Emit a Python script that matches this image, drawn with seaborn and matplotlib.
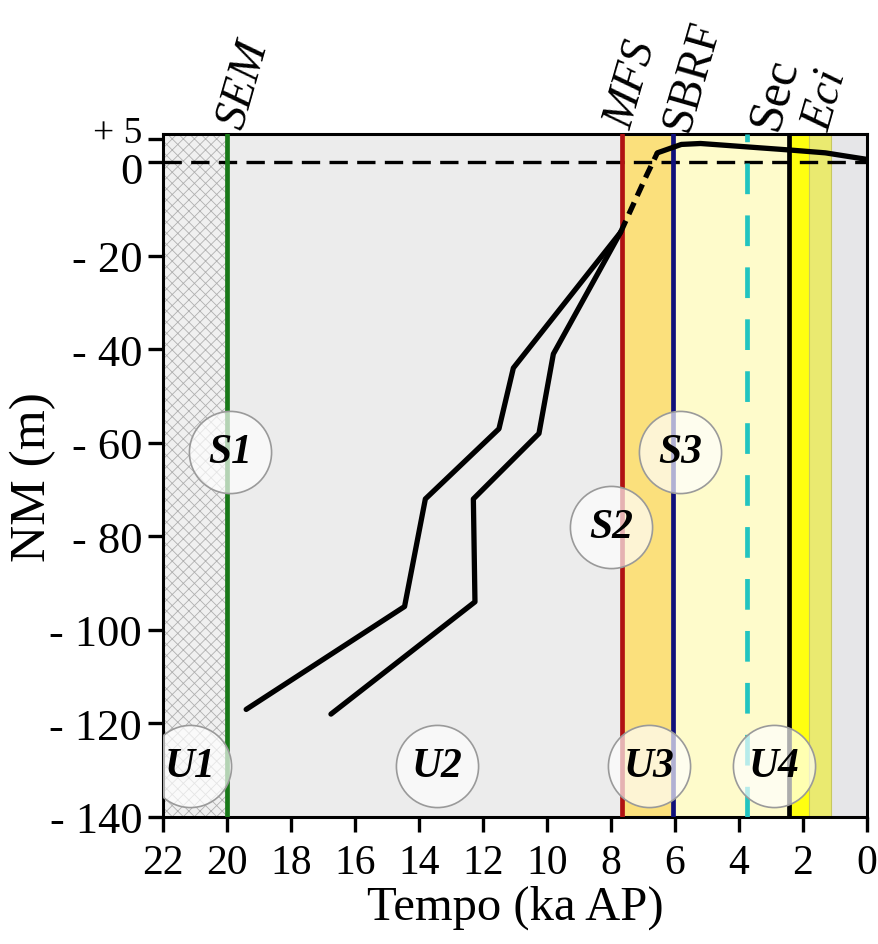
import matplotlib
matplotlib.use("Agg")
import matplotlib.pyplot as plt
import matplotlib.transforms as mtransforms
import seaborn as sns
import pandas as pd
import numpy as np

# ---------------- data ----------------
curve_a_age = [19.4, 14.45, 13.8, 11.5, 11.05, 7.7]
curve_a_nm = [-117, -95, -72, -57, -44, -15]
curve_b_age = [16.75, 12.25, 12.3, 10.25, 9.8, 7.7]
curve_b_nm = [-118, -94, -72, -58, -41, -15]
dash_age = [7.7, 6.9, 6.55]
dash_nm = [-15, -3, 2]
recent_age = [6.55, 5.8, 5.2, 3.4, 2.4, 1.3, 0.0]
recent_nm = [2, 3.8, 4.0, 3.1, 2.6, 2.0, 0.6]

band_edges = [(22, 20), (20, 7.65), (7.65, 6.05), (6.05, 2.45), (2.45, 1.8), (1.8, 1.12), (1.12, 0)]
band_colors = ["#f0f0f0", "#ececec", "#fbe07c", "#fefbcb", "#ffff10", "#eaea70", "#e6e6e8"]

surf_names = ["SEM", "MFS", "SBRF", "Sec", "Eci"]
surf_age = [20.0, 7.65, 6.05, 3.75, 2.45]
surf_colors = ["#187818", "#b01212", "#10107a", "#22c4c0", "#000000"]
surf_styles = ["-", "-", "-", (0, (6.5, 4.5)), "-"]

circle_labels = ["S1", "S2", "S3", "U1", "U2", "U3", "U4"]
circle_age = [19.9, 8.0, 5.85, 21.15, 13.45, 6.8, 2.9]
circle_nm = [-62, -78, -62, -129, -129, -129, -129]

xticks = [22, 20, 18, 16, 14, 12, 10, 8, 6, 4, 2, 0]
yticks = [5, 0, -20, -40, -60, -80, -100, -120, -140]
ytick_labels = ["+ 5", "0", "- 20", "- 40", "- 60", "- 80", "- 100", "- 120", "- 140"]

# ---------------- plot ----------------
sns.set_theme(style="ticks")
plt.rcParams["font.family"] = ["Liberation Serif", "DejaVu Serif"]
plt.rcParams["text.color"] = "black"
plt.rcParams["axes.labelcolor"] = "black"
plt.rcParams["xtick.color"] = "black"
plt.rcParams["ytick.color"] = "black"
plt.rcParams["hatch.linewidth"] = 0.6

fig = plt.figure(figsize=(8.79, 9.45), dpi=100)
ax = fig.add_axes([0.1854, 0.1344, 0.8009, 0.7226])

for i, ((x0, x1), c) in enumerate(zip(band_edges, band_colors)):
    if i == 0:
        ax.axvspan(x1, x0, facecolor=c, edgecolor="#b0b0b0", hatch="xxx", lw=0, zorder=0)
    else:
        ax.axvspan(x1, x0, facecolor=c, edgecolor="none", lw=0, zorder=0)
for xv in [1.8, 1.12]:
    ax.axvline(xv, color="#c8c860", lw=0.8, zorder=0.5)

ax.axhline(0, color="black", lw=2.4, ls=(0, (5.5, 2.8)), zorder=2)

for name, xv, c, ls in zip(surf_names, surf_age, surf_colors, surf_styles):
    ax.axvline(xv, color=c, lw=3.4, ls=ls, zorder=3)

df_a = pd.DataFrame({"age": curve_a_age, "nm": curve_a_nm})
df_b = pd.DataFrame({"age": curve_b_age, "nm": curve_b_nm})
df_d = pd.DataFrame({"age": dash_age, "nm": dash_nm})
df_r = pd.DataFrame({"age": recent_age, "nm": recent_nm})
for d in (df_a, df_b, df_r):
    sns.lineplot(data=d, x="age", y="nm", sort=False, estimator=None, color="black",
                 lw=3.8, ax=ax, zorder=4)
sns.lineplot(data=df_d, x="age", y="nm", sort=False, estimator=None, color="black",
             lw=3.8, ls=(0, (2.4, 1.4)), ax=ax, zorder=4)

ax.scatter(circle_age, circle_nm, s=3500, facecolor=(1, 1, 1, 0.68),
           edgecolor="#9a9a9a", lw=1.2, zorder=5)
for lab, xv, yv in zip(circle_labels, circle_age, circle_nm):
    ax.text(xv, yv, lab, ha="center", va="center", fontsize=30, fontweight="bold",
            fontstyle="italic", zorder=6)

# labels of the surfaces above the plot
top_styles = ["italic", "italic", "normal", "normal", "italic"]
top_x = [19.5, 7.4, 5.6, 2.85, 1.2]
top_y = [6.8, 6.8, 6.4, 6.6, 6.4]
top_size = [33, 33, 33, 36, 33]
for name, xv, yv, st, fs in zip(surf_names, top_x, top_y, top_styles, top_size):
    ax.text(xv, yv, name, rotation=74, rotation_mode="anchor",
            ha="left", va="baseline", fontsize=fs, fontstyle=st, clip_on=False)

ax.set_xlim(22, 0)
ax.set_ylim(-140, 6)
ax.set_xticks(xticks)
ax.set_xticklabels([str(t) for t in xticks])
ax.set_yticks(yticks)
ax.set_yticklabels(ytick_labels)
ax.tick_params(axis="both", length=11, width=2.4, color="black")
ax.tick_params(axis="x", pad=8, labelsize=30)
ax.tick_params(axis="y", pad=4, labelsize=32)
for sp in ax.spines.values():
    sp.set_linewidth(2.2)
    sp.set_color("black")

# nudge the +5 / 0 labels apart as in the reference
ylabs = ax.get_yticklabels()
ylabs[0].set_transform(ylabs[0].get_transform() + mtransforms.ScaledTranslation(0, 0.10, fig.dpi_scale_trans))
ylabs[1].set_transform(ylabs[1].get_transform() + mtransforms.ScaledTranslation(0, -0.05, fig.dpi_scale_trans))
ylabs[0].set_fontsize(27)

ax.set_xlabel("Tempo (ka AP)", fontsize=35, labelpad=2)
ax.set_ylabel("NM (m)", fontsize=37)
ax.yaxis.set_label_coords(-0.152, 0.5)

fig.savefig("out.png", dpi=100)
